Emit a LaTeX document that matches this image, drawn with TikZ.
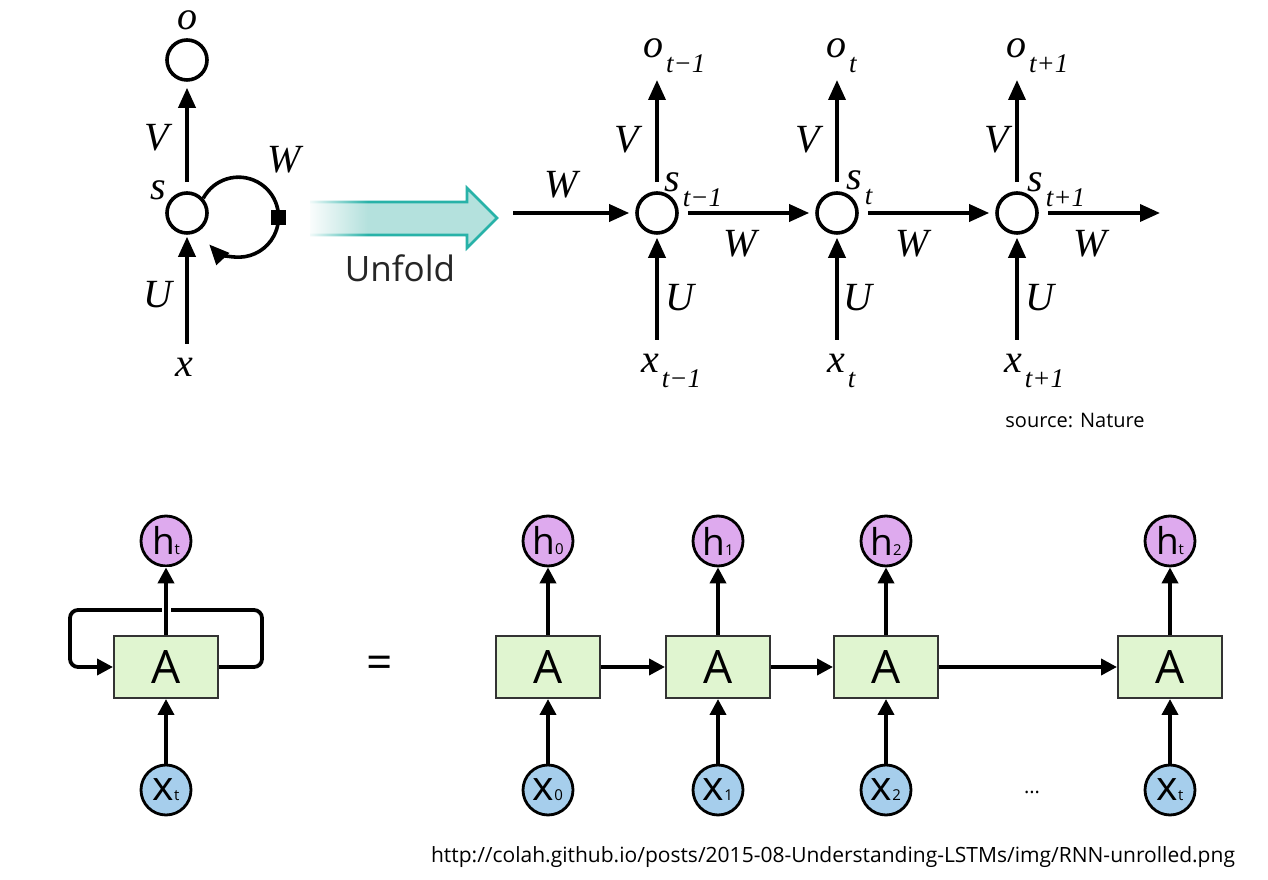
\documentclass[tikz,border=0pt]{standalone}
\usepackage{fontspec}
\setmainfont{Liberation Serif}
\newfontfamily\sansf{Open Sans}
\usetikzlibrary{positioning,arrows.meta,fadings}

\definecolor{tealline}{RGB}{40,178,168}
\definecolor{tealfill}{RGB}{180,225,221}
\definecolor{hcol}{RGB}{222,170,238}
\definecolor{xcol}{RGB}{166,206,236}
\definecolor{acol}{RGB}{224,245,208}

\tikzfading[name=fadeleft, left color=transparent!0, right color=transparent!100]

\newcommand{\lab}[2]{#1\kern3pt\raisebox{-15pt}{\fontsize{27}{27}\selectfont #2}}
\newcommand{\hsub}[2]{{\fontsize{37}{37}\selectfont #1}{\fontsize{15}{15}\selectfont #2}}
\newcommand{\xsub}[2]{{\fontsize{41}{41}\selectfont #1}{\fontsize{15}{15}\selectfont #2}}

\begin{document}
\begin{tikzpicture}[x=1pt, y=1pt,
    state/.style = {draw, circle, line width=3.6pt, minimum size=40pt, inner sep=0pt},
    arr/.style = {-{Triangle[length=20pt,width=17pt]}, line width=3.6pt},
    gap/.style = {shorten <=9pt, shorten >=6pt},
    lbl/.style = {font=\fontsize{40}{40}\selectfont\itshape, inner sep=0pt},
    cell/.style = {draw=black!80, line width=2pt, fill=acol, minimum width=104pt, minimum height=62pt, font=\sansf\fontsize{46}{46}\selectfont},
    hid/.style = {draw, circle, line width=2.8pt, fill=hcol, minimum size=50pt, inner sep=0pt, font=\sansf},
    inp/.style = {draw, circle, line width=2.8pt, fill=xcol, minimum size=50pt, inner sep=0pt, font=\sansf},
    barr/.style = {-{Triangle[length=16pt,width=16pt]}, line width=3.8pt},
    note/.style = {font=\sansf\fontsize{20}{20}\selectfont},
    node distance=180pt]
    \fill[white] (0,0) rectangle (1268,880);
    \useasboundingbox (0,0) rectangle (1268,880);

    % folded network (top left)
    \node[state] (s) at (187,667) {};
    \node[state] (o) at (187,820) {};
    \node[lbl] (olab) at (187,860) {o};
    \node[lbl] (slab) at (158,690) {s};
    \node[lbl] (vlab) at (157,742) {V};
    \node[lbl] (ulab) at (158,585) {U};
    \node[lbl] (xlab) at (184,513) {x};
    \node[lbl] (wlab) at (284,720) {W};
    \coordinate (xin) at (187,536);
    \draw[arr, gap] (s) -- (o);
    \draw[arr, shorten >=2pt] (xin) -- (s);
    \draw[arr] (s.42) arc[start angle=152, end angle=-137, radius=40];
    \node[fill, minimum size=15pt, inner sep=0pt] (wsq) at (278.3,662.6) {};

    % unfold arrow
    \fill[tealfill] (310,645) -- (467,645) -- (467,632) -- (497,662) -- (467,692) -- (467,678) -- (310,678) -- cycle;
    \draw[tealline, line width=2.6pt, line join=miter] (310,645) -- (467,645) -- (467,632) -- (497,662) -- (467,692) -- (467,678) -- (310,678);
    \fill[white, path fading=fadeleft] (306,641) rectangle (368,682);
    \node[font=\sansf\fontsize{35}{35}\selectfont, text=black!85] (unf) at (400,612) {Unfold};

    % unfolded network (top right)
    \node[state] (s1) at (657,667) {};
    \node[state] (s2) [right of=s1] {};
    \node[state] (s3) [right of=s2] {};
    \coordinate (win) at (513,667);
    \coordinate (wout) at (1160,667);
    \draw[arr, shorten >=6pt] (win) -- (s1);
    \draw[arr, gap] (s1) -- (s2);
    \draw[arr, gap] (s2) -- (s3);
    \draw[arr, shorten <=9pt] (s3) -- (wout);
    \coordinate (o1) at (657,800);
    \coordinate (o2) at (837,800);
    \coordinate (o3) at (1017,800);
    \draw[arr, shorten <=9pt] (s1) -- (o1);
    \draw[arr, shorten <=9pt] (s2) -- (o2);
    \draw[arr, shorten <=9pt] (s3) -- (o3);
    \coordinate (u1) at (657,540);
    \coordinate (u2) at (837,540);
    \coordinate (u3) at (1017,540);
    \draw[arr, shorten >=3pt] (u1) -- (s1);
    \draw[arr, shorten >=3pt] (u2) -- (s2);
    \draw[arr, shorten >=3pt] (u3) -- (s3);

    \node[lbl] (w0) at (561,695) {W};
    \node[lbl] (w1) at (740,636) {W};
    \node[lbl] (w2) at (912,636) {W};
    \node[lbl] (w3) at (1090,636) {W};
    \node[lbl] (v1) at (627,740) {V};
    \node[lbl] (v2) at (808,740) {V};
    \node[lbl] (v3) at (997,740) {V};
    \node[lbl] (uu1) at (680,582) {U};
    \node[lbl] (uu2) at (858,582) {U};
    \node[lbl] (uu3) at (1040,582) {U};
    \node[lbl, anchor=base west] (ol1) at (643,822) {\lab{o}{t−1}};
    \node[lbl, anchor=base west] (ol2) at (826,822) {\lab{o}{t}};
    \node[lbl, anchor=base west] (ol3) at (1006,822) {\lab{o}{t+1}};
    \node[lbl, anchor=base west] (sl1) at (664,688) {\lab{s}{t−1}};
    \node[lbl, anchor=base west] (sl2) at (846,690) {\lab{s}{t}};
    \node[lbl, anchor=base west] (sl3) at (1027,688) {\lab{s}{t+1}};
    \node[lbl, anchor=base west] (xl1) at (641,507) {\lab{x}{t−1}};
    \node[lbl, anchor=base west] (xl2) at (827,507) {\lab{x}{t}};
    \node[lbl, anchor=base west] (xl3) at (1004,507) {\lab{x}{t+1}};
    \node[note] (src) at (1075,459) {source: Nature};

    % rolled cell (bottom left)
    \node[cell] (a) at (166,213) {A};
    \node[hid] (h) at (166,339) {\hsub{h}{t}};
    \node[inp] (xt) at (166,90) {\xsub{x}{t}};
    \coordinate (lr) at (262,270);
    \coordinate (ll) at (70,213);
    \draw[barr, rounded corners=8pt] (a.east) -| (lr) -| (ll) -- (a.west);
    \draw[white, line width=9pt] (a.north) -- (h.south);
    \draw[barr] (xt) -- (a);
    \draw[barr] (a) -- (h);
    \node[font=\sansf\fontsize{46}{46}\selectfont] (eq) at (380,213) {=};

    % unrolled cells (bottom right)
    \node[cell] (a0) at (548,213) {A};
    \node[cell] (a1) [right of=a0, node distance=170pt] {A};
    \node[cell] (a2) [right of=a1, node distance=168pt] {A};
    \node[cell] (a3) [right of=a2, node distance=284pt] {A};
    \node[hid] (h0) [above of=a0, node distance=126pt] {\hsub{h}{0}};
    \node[hid] (h1) [above of=a1, node distance=126pt] {\hsub{h}{1}};
    \node[hid] (h2) [above of=a2, node distance=126pt] {\hsub{h}{2}};
    \node[hid] (h3) [above of=a3, node distance=126pt] {\hsub{h}{t}};
    \node[inp] (x0) [below of=a0, node distance=123pt] {\xsub{x}{0}};
    \node[inp] (x1) [below of=a1, node distance=123pt] {\xsub{x}{1}};
    \node[inp] (x2) [below of=a2, node distance=123pt] {\xsub{x}{2}};
    \node[inp] (x3) [below of=a3, node distance=123pt] {\xsub{x}{t}};
    \draw[barr] (a0) -- (a1);
    \draw[barr] (a1) -- (a2);
    \draw[barr] (a2) -- (a3);
    \draw[barr] (a0) -- (h0);
    \draw[barr] (a1) -- (h1);
    \draw[barr] (a2) -- (h2);
    \draw[barr] (a3) -- (h3);
    \draw[barr] (x0) -- (a0);
    \draw[barr] (x1) -- (a1);
    \draw[barr] (x2) -- (a2);
    \draw[barr] (x3) -- (a3);
    \node[note] (dots) at (1032,88) {...};
    \node[note, font=\sansf\fontsize{21}{21}\selectfont] (url) at (833,23) {http://colah.github.io/posts/2015-08-Understanding-LSTMs/img/RNN-unrolled.png};
\end{tikzpicture}
\end{document}
